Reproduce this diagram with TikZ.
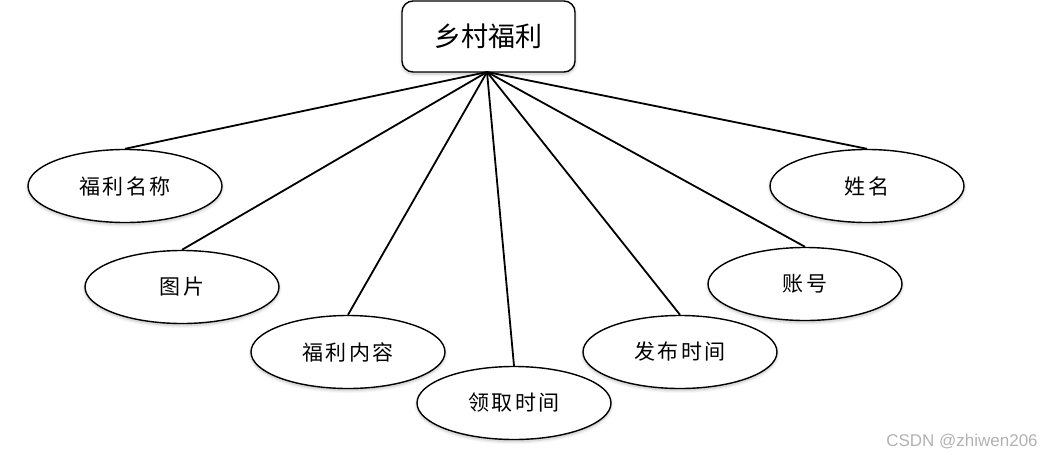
\documentclass[tikz,border=0pt]{standalone}
\usepackage{fontspec}
\newfontfamily\cjk{Noto Sans CJK SC}
\newfontfamily\cjksp[LetterSpace=12]{Noto Sans CJK SC}
\newfontfamily\wm{Liberation Sans}
\usetikzlibrary{shapes.geometric,shadows.blur}
\tikzset{
  attr/.style={ellipse, draw=black, line width=1.4pt, fill=white, minimum width=194pt, minimum height=73pt, inner sep=0pt, font=\cjksp\fontsize{21}{25}\selectfont,
    blur shadow={shadow xshift=0pt, shadow yshift=-2pt, shadow blur steps=6, shadow opacity=25, shadow blur radius=3pt}},
  entity/.style={rectangle, rounded corners=11pt, draw=black, line width=1.4pt, fill=white, minimum width=173pt, minimum height=71pt, inner sep=0pt, font=\cjk\fontsize{27}{31}\selectfont,
    blur shadow={shadow xshift=0pt, shadow yshift=-2pt, shadow blur steps=6, shadow opacity=25, shadow blur radius=3pt}},
  link/.style={line width=1.8pt, draw=black}
}
\begin{document}
\begin{tikzpicture}[x=1pt,y=-1pt]
\useasboundingbox (0,0) rectangle (1049,461);
\node[entity] (e) at (488.5,36.5) {乡村福利};
\node[attr] (a1) at (125,186) {福利名称};
\node[attr] (a2) at (182,287) {图片};
\node[attr] (a3) at (348,352) {福利内容};
\node[attr] (a4) at (514,403) {领取时间};
\node[attr] (a5) at (680,352) {发布时间};
\node[attr] (a6) at (805,284) {账号};
\node[attr] (a7) at (867,186) {姓名};
\coordinate (hub) at (487,72);
\foreach \n in {a1,a2,a3,a4,a5,a6,a7} {
  \draw[link] (hub) -- (\n.north);
}
\node[text=black!30, font=\wm\fontsize{17}{20}\selectfont] (wm) at (962,442) {CSDN @zhiwen206};
\end{tikzpicture}
\end{document}
